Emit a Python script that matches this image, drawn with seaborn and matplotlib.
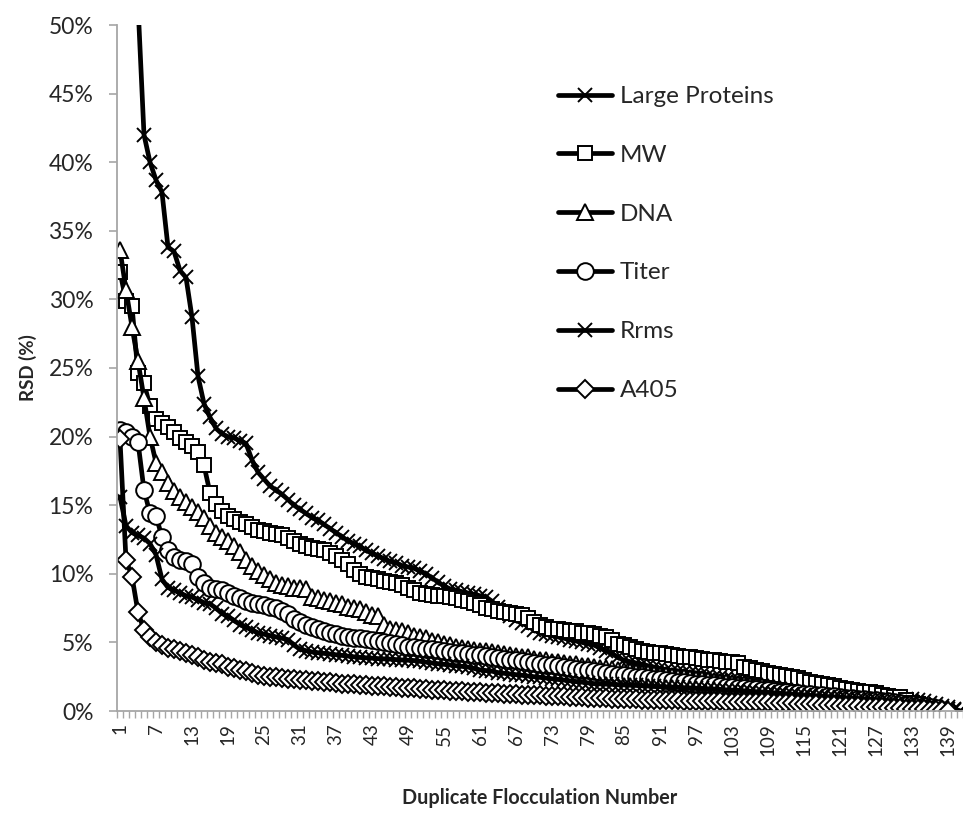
import numpy as np
import pandas as pd
import matplotlib
matplotlib.use("Agg")
import matplotlib.pyplot as plt
import seaborn as sns
from matplotlib.ticker import FixedLocator, FuncFormatter

# ---------------- data (RSD in %) ----------------
large_proteins = [
    98.0, 80.0, 64.0, 51.5, 42.0, 40.0, 38.7, 37.8, 33.8, 33.5,
    32.1, 31.6, 28.7, 24.4, 22.4, 21.4, 20.6, 20.2, 20.0, 19.9,
    19.7, 19.5, 18.3, 17.4, 16.9, 16.4, 16.1, 15.8, 15.4, 15.0,
    14.7, 14.4, 14.1, 13.9, 13.6, 13.3, 13.0, 12.7, 12.4, 12.2,
    12.0, 11.7, 11.5, 11.3, 11.1, 10.9, 10.8, 10.6, 10.5, 10.4,
    10.2, 10.0, 9.7, 9.4, 9.1, 8.9, 8.8, 8.7, 8.6, 8.5,
    8.4, 8.3, 8.0, 7.6, 7.2, 6.9, 6.6, 6.4, 6.2, 5.9,
    5.7, 5.6, 5.5, 5.4, 5.3, 5.2, 5.1, 5.0, 4.9, 4.8,
    4.6, 4.4, 4.2, 3.9, 3.7, 3.6, 3.5, 3.4, 3.3, 3.2,
    3.1, 3.0, 2.95, 2.9, 2.85, 2.8, 2.75, 2.7, 2.6, 2.5,
    2.45, 2.4, 2.35, 2.3, 2.25, 2.2, 2.15, 2.1, 2.05, 2.0,
    1.95, 1.9, 1.85, 1.8, 1.75, 1.7, 1.65, 1.6, 1.55, 1.5,
    1.45, 1.4, 1.35, 1.3, 1.25, 1.2, 1.15, 1.1, 1.05, 1.0,
    0.95, 0.9, 0.85, 0.8, 0.7, 0.6, 0.5, 0.4, 0.3, 0.15,
    0.0]

mw = [
    32.0, 29.9, 29.5, 24.6, 23.9, 22.2, 21.3, 21.0, 20.7, 20.3,
    19.9, 19.6, 19.3, 18.9, 17.9, 15.9, 15.1, 14.6, 14.2, 14.0,
    13.8, 13.6, 13.4, 13.2, 13.1, 13.0, 12.9, 12.8, 12.6, 12.4,
    12.2, 12.0, 11.9, 11.8, 11.7, 11.5, 11.3, 11.0, 10.7, 10.3,
    10.0, 9.8, 9.7, 9.6, 9.5, 9.4, 9.3, 9.2, 9.0, 8.8,
    8.6, 8.5, 8.45, 8.4, 8.35, 8.3, 8.2, 8.1, 8.0, 7.9,
    7.7, 7.5, 7.4, 7.3, 7.2, 7.15, 7.1, 7.0, 6.8, 6.5,
    6.3, 6.1, 6.0, 5.95, 5.9, 5.85, 5.8, 5.7, 5.65, 5.6,
    5.5, 5.4, 5.2, 4.9, 4.8, 4.7, 4.5, 4.4, 4.3, 4.25,
    4.2, 4.15, 4.1, 4.0, 3.95, 3.9, 3.85, 3.8, 3.75, 3.7,
    3.65, 3.6, 3.55, 3.5, 3.2, 3.1, 3.0, 2.9, 2.8, 2.7,
    2.6, 2.55, 2.5, 2.4, 2.25, 2.1, 2.05, 2.0, 1.9, 1.8,
    1.7, 1.6, 1.5, 1.45, 1.4, 1.35, 1.3, 1.2, 1.1, 1.05,
    1.0, 0.8, 0.6, 0.5]

dna = [
    33.6, 30.7, 28.0, 25.5, 22.8, 20.0, 18.1, 17.4, 16.6, 16.0,
    15.6, 15.2, 14.9, 14.5, 14.1, 13.5, 13.0, 12.7, 12.4, 12.0,
    11.6, 11.0, 10.6, 10.2, 9.9, 9.6, 9.3, 9.2, 9.1, 9.0,
    9.0, 8.9, 8.3, 8.2, 8.1, 8.0, 7.9, 7.8, 7.6, 7.5,
    7.4, 7.2, 7.0, 6.9, 6.3, 6.0, 5.9, 5.8, 5.7, 5.5,
    5.4, 5.3, 5.1, 5.0, 4.9, 4.8, 4.7, 4.6, 4.5, 4.45,
    4.4, 4.35, 4.3, 4.2, 4.15, 4.1, 4.0, 3.95, 3.9, 3.8,
    3.75, 3.7, 3.6, 3.55, 3.5, 3.45, 3.4, 3.3, 3.25, 3.2,
    3.15, 3.1, 3.05, 3.0, 2.95, 2.9, 2.85, 2.8, 2.75, 2.7,
    2.65, 2.6, 2.55, 2.5, 2.45, 2.4, 2.35, 2.3, 2.25, 2.2,
    2.15, 2.1, 2.05, 2.0, 1.95, 1.9, 1.85, 1.8, 1.75, 1.7,
    1.62, 1.55, 1.48, 1.41, 1.34, 1.27, 1.2, 1.13, 1.06, 1.0,
    0.95, 0.9, 0.85, 0.8, 0.75, 0.7, 0.65, 0.6, 0.55, 0.5,
    0.44, 0.38, 0.32, 0.26, 0.2, 0.14, 0.08, 0.02]

titer = [
    20.5, 20.3, 20.0, 19.6, 16.1, 14.4, 14.2, 12.7, 11.7, 11.2,
    11.0, 10.9, 10.7, 9.8, 9.3, 9.0, 8.9, 8.8, 8.6, 8.4,
    8.2, 8.0, 7.9, 7.8, 7.7, 7.6, 7.5, 7.3, 7.1, 6.7,
    6.5, 6.3, 6.1, 6.0, 5.8, 5.7, 5.6, 5.5, 5.4, 5.35,
    5.3, 5.25, 5.2, 5.1, 5.0, 4.95, 4.9, 4.8, 4.7, 4.65,
    4.6, 4.55, 4.5, 4.45, 4.4, 4.3, 4.25, 4.2, 4.15, 4.1,
    4.05, 4.0, 3.9, 3.85, 3.8, 3.75, 3.7, 3.62, 3.56, 3.5,
    3.44, 3.38, 3.32, 3.26, 3.2, 3.14, 3.08, 3.02, 2.96, 2.9,
    2.84, 2.78, 2.72, 2.66, 2.6, 2.55, 2.5, 2.45, 2.4, 2.35,
    2.3, 2.25, 2.2, 2.15, 2.1, 2.05, 2.0, 1.95, 1.9, 1.86,
    1.82, 1.78, 1.74, 1.7, 1.66, 1.62, 1.58, 1.54, 1.5, 1.46,
    1.42, 1.38, 1.34, 1.3, 1.26, 1.22, 1.18, 1.14, 1.1, 1.06,
    1.02, 0.98, 0.94, 0.9, 0.86, 0.82, 0.78, 0.74, 0.7, 0.65,
    0.6, 0.54, 0.48, 0.42, 0.36, 0.3, 0.2, 0.1]

rrms = [
    15.6, 13.5, 13.0, 12.8, 12.6, 12.2, 11.4, 9.6, 9.0, 8.8,
    8.6, 8.4, 8.3, 8.1, 7.9, 7.8, 7.5, 7.1, 6.9, 6.6,
    6.3, 6.1, 5.9, 5.7, 5.6, 5.5, 5.4, 5.3, 5.2, 4.8,
    4.5, 4.4, 4.3, 4.25, 4.2, 4.15, 4.1, 4.05, 4.0, 3.95,
    3.9, 3.88, 3.85, 3.82, 3.8, 3.78, 3.75, 3.72, 3.7, 3.68,
    3.62, 3.56, 3.5, 3.45, 3.4, 3.35, 3.3, 3.25, 3.2, 3.1,
    3.0, 2.95, 2.9, 2.8, 2.75, 2.7, 2.65, 2.6, 2.55, 2.5,
    2.45, 2.4, 2.35, 2.3, 2.25, 2.2, 2.15, 2.1, 2.05, 2.0,
    1.98, 1.96, 1.94, 1.92, 1.9, 1.88, 1.86, 1.84, 1.82, 1.8,
    1.78, 1.76, 1.74, 1.72, 1.7, 1.68, 1.66, 1.64, 1.62, 1.6,
    1.57, 1.54, 1.52, 1.5, 1.47, 1.44, 1.41, 1.38, 1.35, 1.32,
    1.29, 1.26, 1.23, 1.2, 1.17, 1.14, 1.11, 1.08, 1.05, 1.02,
    0.99, 0.96, 0.93, 0.9, 0.87, 0.84, 0.81, 0.78, 0.75, 0.7,
    0.65, 0.6, 0.55, 0.5, 0.45, 0.4, 0.32, 0.25, 0.18, 0.1,
    0.0]

a405 = [
    19.8, 11.0, 9.8, 7.2, 5.9, 5.4, 5.0, 4.8, 4.6, 4.5,
    4.4, 4.2, 4.1, 3.9, 3.7, 3.6, 3.5, 3.4, 3.2, 3.1,
    3.0, 2.9, 2.8, 2.6, 2.55, 2.5, 2.45, 2.4, 2.35, 2.3,
    2.27, 2.24, 2.2, 2.16, 2.12, 2.08, 2.04, 2.0, 1.97, 1.94,
    1.91, 1.88, 1.85, 1.82, 1.79, 1.76, 1.73, 1.7, 1.67, 1.64,
    1.61, 1.58, 1.55, 1.52, 1.5, 1.48, 1.46, 1.44, 1.42, 1.4,
    1.37, 1.34, 1.31, 1.28, 1.26, 1.24, 1.22, 1.2, 1.18, 1.16,
    1.14, 1.12, 1.1, 1.08, 1.06, 1.04, 1.02, 1.0, 0.98, 0.96,
    0.94, 0.92, 0.9, 0.88, 0.86, 0.85, 0.84, 0.83, 0.82, 0.81,
    0.8, 0.79, 0.78, 0.77, 0.76, 0.75, 0.74, 0.73, 0.72, 0.71,
    0.7, 0.69, 0.68, 0.67, 0.66, 0.65, 0.64, 0.63, 0.62, 0.61,
    0.6, 0.58, 0.56, 0.54, 0.52, 0.5, 0.48, 0.46, 0.44, 0.42,
    0.4, 0.38, 0.36, 0.34, 0.32, 0.3, 0.28, 0.26, 0.24, 0.22,
    0.2, 0.18, 0.16, 0.14, 0.12, 0.1, 0.08, 0.05, 0.0]

series_names = ["Large Proteins", "MW", "DNA", "Titer", "Rrms", "A405"]
series_values = [large_proteins, mw, dna, titer, rrms, a405]
n_categories = 141
x_tick_labels = [str(v) for v in range(1, 140, 6)]
y_ticks = [0, 5, 10, 15, 20, 25, 30, 35, 40, 45, 50]

# ---------------- styling ----------------
sns.set_style("white")
plt.rcParams['font.family'] = ['Lato', 'DejaVu Sans']

marker_styles = {
    "Large Proteins": dict(marker='x', markersize=10, markeredgewidth=1.4),
    "MW": dict(marker='s', markersize=9.5, markeredgewidth=1.4, markerfacecolor='white'),
    "DNA": dict(marker='^', markersize=11.5, markeredgewidth=1.4, markerfacecolor='white'),
    "Titer": dict(marker='o', markersize=12, markeredgewidth=1.4, markerfacecolor='white'),
    "Rrms": dict(marker='x', markersize=10, markeredgewidth=1.4),
    "A405": dict(marker='D', markersize=9.5, markeredgewidth=1.4, markerfacecolor='white'),
}

rows = []
for name, vals in zip(series_names, series_values):
    for i, v in enumerate(vals):
        rows.append((name, i + 1, v))
df = pd.DataFrame(rows, columns=["series", "n", "rsd"])

fig = plt.figure(figsize=(9.63, 8.16), dpi=100)
ax = fig.add_axes([117 / 963, 1 - 711 / 816, 846 / 963, 686 / 816])

for name in series_names:
    sub = df[df["series"] == name]
    sns.lineplot(data=sub, x="n", y="rsd", ax=ax, color='black', linewidth=3.4,
                 markeredgecolor='black', label=name, sort=False, estimator=None,
                 **marker_styles[name])

ax.set_xlim(0.5, n_categories + 0.5)
ax.set_ylim(0, 50)

# axes look
for side in ["top", "right"]:
    ax.spines[side].set_visible(False)
for side in ["left", "bottom"]:
    ax.spines[side].set_color('#a6a6a6')
    ax.spines[side].set_linewidth(1.3)

ax.yaxis.set_major_locator(FixedLocator(y_ticks))
ax.yaxis.set_major_formatter(FuncFormatter(lambda v, p: f"{int(round(v))}%"))
ax.tick_params(axis='y', which='major', direction='out', length=6, width=1.2,
               color='#a6a6a6', labelsize=16.5, pad=11, left=True)

ax.xaxis.set_major_locator(FixedLocator(list(range(1, 140, 6))))
ax.set_xticklabels(x_tick_labels, rotation=90, fontsize=13.5)
ax.xaxis.set_minor_locator(FixedLocator(np.arange(0.5, n_categories + 1, 1.0)))
ax.tick_params(axis='x', which='major', length=0, pad=9, bottom=True)
ax.tick_params(axis='x', which='minor', direction='out', length=5, width=1.0,
               color='#a6a6a6', bottom=True)

ax.set_xlabel("Duplicate Flocculation Number", fontsize=14.2, fontweight='bold', labelpad=23)
ax.set_ylabel("RSD (%)", fontsize=13.5, fontweight='bold', labelpad=8)
ax.grid(False)

handles, labels = ax.get_legend_handles_labels()
leg = ax.legend(handles, labels, loc='upper left', bbox_to_anchor=(0.521, 0.911),
                frameon=False, fontsize=17.5, handlelength=2.22, handletextpad=0.33,
                labelspacing=1.555, borderaxespad=0, borderpad=0)

fig.savefig("out.png", dpi=100)
